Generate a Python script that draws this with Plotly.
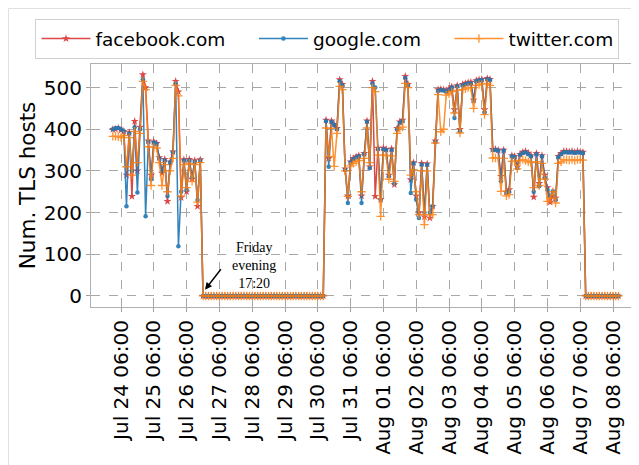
import pandas as pd
import plotly.graph_objects as go

# sampling times: every 2 hours, Jul 24 00:00 .. Aug 08 10:00 (2019)
times = pd.date_range("2019-07-24 00:00", "2019-08-08 10:00", freq="2h")

# one row per day, 12 two-hour samples (last day: 6)
facebook = [
    400, 400, 403, 398, 395, 290, 392, 239, 419, 300, 405, 531,   # Jul 24
    500, 372, 290, 370, 366, 332, 295, 328, 227, 322, 346, 515,   # Jul 25
    490, 236, 327, 250, 328, 280, 325, 215, 327, 0, 0, 0,         # Jul 26
    0, 0, 0, 0, 0, 0, 0, 0, 0, 0, 0, 0,                           # Jul 27
    0, 0, 0, 0, 0, 0, 0, 0, 0, 0, 0, 0,                           # Jul 28
    0, 0, 0, 0, 0, 0, 0, 0, 0, 0, 0, 0,                           # Jul 29
    0, 0, 0, 0, 0, 0, 422, 330, 420, 412, 402, 519,               # Jul 30
    508, 305, 240, 322, 330, 334, 337, 240, 342, 420, 310, 515,   # Jul 31
    239, 355, 231, 355, 352, 290, 353, 267, 402, 418, 422, 527,   # Aug 01
    508, 279, 320, 240, 200, 318, 190, 317, 187, 215, 372, 495,   # Aug 02
    496, 495, 493, 497, 502, 447, 505, 400, 508, 510, 512, 513,   # Aug 03
    470, 517, 519, 520, 447, 522, 520, 352, 352, 350, 287, 350,   # Aug 04
    250, 255, 337, 335, 310, 340, 345, 347, 343, 337, 237, 342,   # Aug 05
    270, 337, 290, 260, 225, 239, 235, 335, 342, 347, 347, 346,   # Aug 06
    347, 345, 347, 346, 345, 0, 0, 0, 0, 0, 0, 0,                 # Aug 07
    0, 0, 0, 0, 0, 0,                                             # Aug 08
]

google = [
    400, 403, 403, 400, 395, 215, 390, 300, 405, 248, 400, 520,   # Jul 24
    191, 370, 280, 368, 365, 330, 300, 325, 240, 320, 345, 510,   # Jul 25
    119, 250, 325, 255, 325, 285, 322, 230, 325, 0, 0, 0,         # Jul 26
    0, 0, 0, 0, 0, 0, 0, 0, 0, 0, 0, 0,                           # Jul 27
    0, 0, 0, 0, 0, 0, 0, 0, 0, 0, 0, 0,                           # Jul 28
    0, 0, 0, 0, 0, 0, 0, 0, 0, 0, 0, 0,                           # Jul 29
    0, 0, 0, 0, 0, 0, 420, 310, 418, 410, 400, 515,               # Jul 30
    505, 303, 223, 320, 328, 332, 335, 223, 340, 418, 307, 510,   # Jul 31
    500, 352, 231, 352, 350, 287, 350, 270, 400, 415, 420, 523,   # Aug 01
    505, 247, 318, 231, 187, 315, 200, 315, 200, 215, 370, 492,   # Aug 02
    494, 493, 490, 495, 500, 427, 503, 395, 505, 508, 510, 510,   # Aug 03
    468, 515, 517, 518, 440, 520, 518, 350, 350, 349, 275, 349,   # Aug 04
    247, 250, 335, 333, 307, 338, 343, 345, 340, 335, 250, 340,   # Aug 05
    263, 335, 283, 255, 240, 251, 230, 333, 340, 345, 345, 344,   # Aug 06
    345, 343, 345, 344, 343, 0, 0, 0, 0, 0, 0, 0,                 # Aug 07
    0, 0, 0, 0, 0, 0,                                             # Aug 08
]

twitter = [
    383, 383, 382, 380, 385, 310, 380, 290, 395, 320, 390, 515,   # Jul 24
    495, 358, 265, 357, 355, 320, 265, 315, 250, 300, 330, 505,   # Jul 25
    480, 240, 315, 260, 318, 275, 315, 225, 320, 0, 0, 0,         # Jul 26
    0, 0, 0, 0, 0, 0, 0, 0, 0, 0, 0, 0,                           # Jul 27
    0, 0, 0, 0, 0, 0, 0, 0, 0, 0, 0, 0,                           # Jul 28
    0, 0, 0, 0, 0, 0, 0, 0, 0, 0, 0, 0,                           # Jul 29
    0, 0, 0, 0, 0, 0, 403, 335, 402, 311, 390, 503,               # Jul 30
    495, 300, 239, 312, 318, 322, 325, 250, 330, 403, 320, 500,   # Jul 31
    490, 338, 191, 338, 337, 280, 336, 275, 390, 403, 405, 510,   # Aug 01
    500, 290, 303, 250, 195, 300, 171, 300, 195, 195, 367, 483,   # Aug 02
    394, 400, 482, 485, 490, 439, 493, 391, 495, 497, 500, 500,   # Aug 03
    450, 505, 507, 508, 435, 510, 505, 331, 331, 330, 251, 330,   # Aug 04
    240, 243, 323, 323, 305, 325, 327, 325, 322, 320, 260, 322,   # Aug 05
    265, 318, 280, 227, 235, 250, 223, 318, 322, 327, 327, 326,   # Aug 06
    327, 325, 327, 327, 326, 0, 0, 0, 0, 0, 0, 0,                 # Aug 07
    0, 0, 0, 0, 0, 0,                                             # Aug 08
]

tick_times = [
    "2019-07-24 06:00", "2019-07-25 06:00", "2019-07-26 06:00", "2019-07-27 06:00",
    "2019-07-28 06:00", "2019-07-29 06:00", "2019-07-30 06:00", "2019-07-31 06:00",
    "2019-08-01 06:00", "2019-08-02 06:00", "2019-08-03 06:00", "2019-08-04 06:00",
    "2019-08-05 06:00", "2019-08-06 06:00", "2019-08-07 06:00", "2019-08-08 06:00",
]
tick_labels = [
    "Jul 24 06:00", "Jul 25 06:00", "Jul 26 06:00", "Jul 27 06:00",
    "Jul 28 06:00", "Jul 29 06:00", "Jul 30 06:00", "Jul 31 06:00",
    "Aug 01 06:00", "Aug 02 06:00", "Aug 03 06:00", "Aug 04 06:00",
    "Aug 05 06:00", "Aug 06 06:00", "Aug 07 06:00", "Aug 08 06:00",
]
y_ticks = [0, 100, 200, 300, 400, 500]

RED, BLUE, ORANGE = "#d62728", "#1f77b4", "#ff7f0e"
PAD = "\u00a0" * 4

fig = go.Figure()
fig.add_trace(go.Scatter(
    x=times, y=facebook, name="facebook.com" + PAD, mode="lines+markers",
    line=dict(color=RED, width=1.5), opacity=0.85,
    marker=dict(symbol="star", size=6, color=RED)))
fig.add_trace(go.Scatter(
    x=times, y=google, name="google.com" + PAD, mode="lines+markers",
    line=dict(color=BLUE, width=1.5), opacity=0.9,
    marker=dict(symbol="circle", size=4.5, color=BLUE)))
fig.add_trace(go.Scatter(
    x=times, y=twitter, name="twitter.com", mode="lines+markers",
    line=dict(color=ORANGE, width=1.5), opacity=0.85,
    marker=dict(symbol="cross-thin", size=6, color=ORANGE,
                line=dict(color=ORANGE, width=1.3))))

# annotation text and arrow
fig.add_annotation(x="2019-07-28 07:20", y=73, text="Friday<br>evening<br>17:20",
                   showarrow=False, xanchor="center", yanchor="middle",
                   font=dict(family="Liberation Serif", size=14, color="black"))
fig.add_annotation(x="2019-07-26 19:30", y=15, text="", showarrow=True,
                   ax=17, ay=-22, arrowhead=2, arrowsize=1, arrowwidth=1.4,
                   arrowcolor="black")

# faint figure frame (top and left edges)
fig.add_shape(type="line", xref="paper", yref="paper", x0=-0.1506, x1=1.05,
              y0=1.2284, y1=1.2284, line=dict(color="#e0e0e0", width=1))
fig.add_shape(type="line", xref="paper", yref="paper", x0=-0.1506, x1=-0.1506,
              y0=1.2284, y1=-0.7, line=dict(color="#e0e0e0", width=1))

# page body has an 8px margin, so the figure is sized 8px smaller each way
fig.update_layout(
    width=631, height=457,
    margin=dict(l=83, r=0, t=56, b=158, autoexpand=False),
    paper_bgcolor="white", plot_bgcolor="white",
    font=dict(family="DejaVu Sans", color="black"),
    showlegend=True,
    legend=dict(orientation="h", x=-0.1013, xanchor="left", y=1.185, yanchor="top",
                bgcolor="white", bordercolor="#d0d0d0", borderwidth=1,
                font=dict(size=18.5, family="DejaVu Sans"), itemwidth=49,
                traceorder="normal"),
)
fig.update_xaxes(
    type="date", range=["2019-07-23 08:03", "2019-08-09 01:01"],
    tickvals=tick_times, ticktext=tick_labels, tickangle=-90,
    tickfont=dict(size=20, family="DejaVu Sans", color="black"),
    ticks="outside", ticklen=4, tickcolor="#a0a0a0",
    showgrid=True, gridcolor="#a8a8a8", griddash="dash", gridwidth=0.8,
    showline=True, linecolor="#b0b0b0", linewidth=1, mirror=True,
    zeroline=False, automargin=False,
)
fig.update_yaxes(
    range=[-26.5, 556.5], tickvals=y_ticks,
    tickfont=dict(size=20, family="DejaVu Sans", color="black"),
    ticks="outside", ticklen=4, tickcolor="#a0a0a0",
    showgrid=True, gridcolor="#a8a8a8", griddash="dash", gridwidth=0.8,
    showline=True, linecolor="#b0b0b0", linewidth=1,
    zeroline=False, automargin=False,
    title=dict(text="Num. TLS hosts", font=dict(size=21.5, family="DejaVu Sans", color="black"),
               standoff=2),
)

fig.write_html("out.html")
